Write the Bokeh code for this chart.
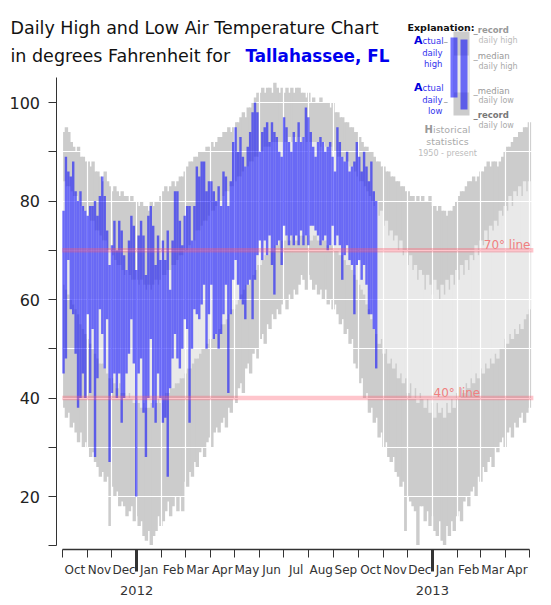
import pandas as pd
from bokeh.plotting import figure
from bokeh.models import FixedTicker, Range1d, Label, LabelSet, ColumnDataSource
from bokeh.embed import file_html
from bokeh.resources import INLINE
from bokeh.core.properties import value

# ---------------- data (deg F), one value per 3-day block from 2011-10-01 ----------------
START = pd.Timestamp("2011-10-01")
AXIS_END = pd.Timestamp("2013-05-01")
STEP = 3

record_high = [
    94, 95, 94, 92, 91, 90, 91, 89, 89, 88, 88, 87, 88, 86, 86, 85, 84, 86, 84, 83,
    82, 83, 82, 81, 82, 81, 81, 80, 81, 80, 80, 79, 80, 79, 79, 78, 80, 79, 80, 80,
    81, 82, 83, 82, 83, 84, 83, 84,
    85, 85, 86, 87, 88, 88, 89, 89, 90, 90, 90, 91, 91, 92, 91, 92, 93, 93, 94, 94,
    95, 94, 95, 96, 96, 97, 98, 97, 99, 99, 100, 101, 102, 102, 103, 102, 103, 103, 102, 104,
    103, 102, 103, 102, 103, 102, 103, 102, 103,
    103, 102, 102, 101, 102, 100, 101, 100, 100, 101, 100, 100, 100, 99, 100, 98, 98, 97, 97, 96,
    96, 95, 95, 94, 94, 93, 92, 91, 91, 90, 90, 89, 88, 88, 87, 87, 86, 86, 85, 85,
    84, 84, 83, 83, 82, 82, 81, 81, 80, 81, 80,
    81, 80, 80, 81, 79, 79, 78, 79, 78, 78, 77, 78, 78, 79, 80, 81, 82, 82, 83, 84,
    84, 85, 84, 85, 86, 86, 87, 88, 87, 88, 88, 87, 88, 89, 90, 91, 91, 92, 93, 93,
    94, 94, 95, 95, 96,
]
median_high = [
    84, 83, 83, 82, 81, 81, 80, 79, 78, 78, 77, 76, 76, 74, 74, 73, 72, 72, 70, 70,
    69, 68, 67, 67, 66, 65, 66, 65, 64, 64, 64, 63, 64, 63, 62, 63, 62, 63, 64, 63,
    64, 65, 65, 66, 66, 67, 67, 68,
    69, 69, 70, 70, 71, 72, 72, 74, 74, 75, 76, 76, 77, 78, 78, 79, 80, 80, 81, 82,
    82, 83, 83, 84, 85, 85, 86, 87, 87, 88, 88, 89, 89, 90, 90, 91, 91, 91, 92, 92,
    92, 92, 92, 92, 92, 93, 92, 93, 92,
    93, 92, 93, 92, 92, 92, 92, 92, 92, 91, 92, 91, 91, 91, 90, 90, 89, 89, 89, 88,
    88, 87, 87, 86, 85, 84, 84, 83, 82, 81,
    80, 79, 80, 77, 78, 75, 76, 73, 74, 72, 73, 70, 72, 69, 70, 67, 69, 66, 67, 64, 66,
    65, 62, 65, 63, 61, 64, 62, 60, 63, 61, 64, 62, 65, 63, 66, 64, 67, 65, 68, 66,
    69, 68, 71, 69, 72, 71, 74, 72, 75, 74, 76, 75, 78, 77, 79, 78, 81, 79, 82, 81,
    83, 81, 84, 82, 84,
]
median_low = [
    63, 62, 61, 60, 59, 58, 57, 55, 54, 53, 52, 51, 50, 49, 48, 47, 47, 46, 45, 44,
    44, 43, 42, 43, 41, 41, 40, 41, 40, 39, 40, 39, 38, 39, 38, 38, 39, 38, 39, 40,
    39, 40, 41, 41, 42, 42, 43, 43,
    44, 44, 45, 46, 46, 47, 48, 48, 49, 50, 50, 51, 52, 52, 53, 53, 54, 55, 55, 56,
    57, 58, 58, 59, 60, 61, 62, 63, 63, 64, 65, 66, 67, 67, 68, 69, 69, 70, 70, 71,
    71, 72, 72, 72, 73, 72, 73, 73, 72,
    73, 73, 73, 73, 73, 72, 73, 73, 72, 72, 72, 72, 71, 71, 71, 70, 70, 69, 69, 68,
    67, 67, 66, 65, 64, 63, 62, 61, 59, 58,
    56, 54, 53, 51, 52, 49, 50, 47, 48, 46, 47, 44, 45, 43, 44, 41, 43, 40, 42, 39, 41,
    40, 38, 40, 37, 39, 36, 39, 37, 38, 36, 39, 37, 40, 38, 41, 40, 42, 41, 43, 42,
    44, 43, 45, 44, 46, 45, 47, 46, 48, 47, 49, 48, 50, 50, 52, 51, 53, 52, 54, 53,
    55, 54, 56, 57, 58,
]
record_low = [
    38, 36, 37, 34, 35, 33, 31, 33, 30, 31, 30, 28, 29, 27, 26, 24, 25, 23, 24, 14,
    22, 20, 21, 18, 19, 18, 16, 17, 18, 15, 16, 14, 15, 12, 11, 13, 10, 12, 13, 16,
    14, 15, 17, 19, 16, 18, 20, 17,
    20, 17, 23, 22, 25, 24, 27, 26, 29, 30, 28, 31, 32, 30, 33, 34, 33, 35, 36, 34,
    38, 37, 40, 39, 42, 43, 41, 46, 47, 45, 49, 50, 48, 52, 53, 51, 55, 54, 57, 56,
    58, 57, 59, 60, 58, 61, 60, 62, 61,
    63, 65, 64, 62, 65, 64, 62, 63, 61, 62, 60, 62, 59, 60, 58, 59, 57, 55, 56, 53,
    54, 51, 52, 47, 46, 43, 44, 40, 41, 37, 38, 35, 36, 32, 33, 30, 31, 28, 27, 28,
    25, 24, 22, 23, 13, 20, 19, 18, 17, 10, 18,
    18, 15, 17, 14, 16, 13, 12, 15, 11, 10, 14, 12, 15, 13, 16, 17, 15, 19, 20, 18,
    21, 22, 20, 24, 23, 26, 25, 27, 28, 26, 30, 29, 31, 32, 30, 33, 34, 32, 35, 34,
    36, 37, 35, 37, 38,
]
actual_high = [
    78, 89, 86, 85, 88, 82, 80, 82, 79, 78, 77, 79, 79, 80, 77, 81, 85, 81, 74, 67,
    71, 76, 70, 76, 74, 69, 66, 72, 77, 75, 66, 73, 76, 73, 65, 77, 79, 75, 67, 73,
    68, 72, 68, 74, 62, 72, 82, 82, 76, 71, 77, 79, 79, 72, 79, 87, 85, 88, 88, 82,
    84, 84, 82, 80, 83, 79, 86, 85, 79, 84, 92, 95, 90, 93, 89, 87, 91, 94, 98, 100,
    98, 90, 94, 95, 96, 92, 96, 94, 93, 90, 89, 97, 95, 92, 90, 94, 92, 96, 92, 93,
    99, 97, 94, 91, 89, 92, 93, 92, 90, 91, 92, 89, 86, 95, 92, 89, 88, 90, 86, 87,
    88, 92, 89, 86, 90, 87, 84, 88, 82, 80,
]
actual_low = [
    45, 48, 68, 58, 57, 49, 38, 40, 45, 40, 57, 41, 54, 28, 44, 58, 53, 46, 56, 27,
    41, 45, 40, 45, 35, 40, 45, 49, 56, 47, 20, 45, 48, 37, 28, 40, 52, 38, 35, 45,
    40, 35, 36, 24, 42, 48, 53, 48, 46, 50, 56, 54, 35, 50, 58, 57, 56, 59, 63, 50,
    57, 63, 52, 53, 50, 53, 57, 63, 41, 57, 64, 68, 63, 60, 59, 56, 63, 64, 56, 64,
    69, 72, 68, 72, 69, 73, 67, 61, 71, 72, 67, 75, 73, 71, 73, 71, 73, 71, 74, 71,
    73, 71, 75, 75, 74, 73, 71, 72, 73, 70, 71, 75, 71, 73, 71, 64, 69, 71, 68, 67,
    57, 67, 68, 64, 67, 63, 57, 57, 54, 46,
]
reference_lines = [70, 40]
reference_labels = ["70° line", "40° line"]
month_labels = ["Oct", "Nov", "Dec", "Jan", "Feb", "Mar", "Apr", "May", "Jun", "Jul",
                "Aug", "Sep", "Oct", "Nov", "Dec", "Jan", "Feb", "Mar", "Apr"]
year_labels = ["2012", "2013"]
year_dates = ["2012-01-01", "2013-01-01"]
y_ticks = [10, 20, 30, 40, 50, 60, 70, 80, 90, 100]
y_labeled = [20, 40, 60, 80, 100]

# ---------------- derived positions (days since START) ----------------
def day(ts):
    return int((pd.Timestamp(ts) - START).days)

hist_left = [day(d) for d in pd.date_range(START, periods=len(record_high), freq=f"{STEP}D")]
hist_right = [x + STEP + 1.2 for x in hist_left]   # slight overlap hides seams
act_left = [day(d) for d in pd.date_range(START, periods=len(actual_high), freq=f"{STEP}D")]
act_right = [x + STEP for x in act_left]
month_starts = [day(d) for d in pd.date_range(START, AXIS_END, freq="MS")]
month_mid = [(a + b) / 2 for a, b in zip(month_starts[:-1], month_starts[1:])]
year_starts = [day(d) for d in year_dates]
end_day = day(AXIS_END)

# ---------------- layout: canvas pixels -> data (frame fills the canvas) ----------------
W, H = 535, 597
PX0, PPD = 61.8, 0.808      # canvas x of day 0, px per day
PY100, PPDEG = 102.0, 4.925  # canvas y of 100F, px per degree

def px(xp):
    return (xp - PX0) / PPD

def py(yp):
    return 100 - (yp - PY100) / PPDEG

FONT = "DejaVu Sans"

p = figure(width=W, height=H, x_range=Range1d(px(0), px(W)), y_range=Range1d(py(H), py(0)),
           output_backend="svg", toolbar_location=None,
           min_border=0, min_border_left=0, min_border_right=0,
           min_border_top=0, min_border_bottom=0)
p.outline_line_color = None
p.background_fill_color = "white"
p.border_fill_color = "white"

# historical bars
hist = ColumnDataSource(dict(left=hist_left, right=hist_right, rh=record_high, rl=record_low,
                             mh=median_high, ml=median_low))
p.quad(left="left", right="right", bottom="rl", top="rh", source=hist,
       fill_color="#cccccc", line_color=None, level="image")
p.quad(left="left", right="right", bottom="ml", top="mh", source=hist,
       fill_color="#e9e9e9", line_color=None, level="image")

# grid (white, over the historical bars)
p.xgrid.ticker = FixedTicker(ticks=month_starts)
p.ygrid.ticker = FixedTicker(ticks=y_ticks)
for g in (p.xgrid[0], p.ygrid[0]):
    g.grid_line_color = "white"
    g.grid_line_width = 1.2
    g.level = "underlay"

# actual bars
act = ColumnDataSource(dict(left=act_left, right=act_right, hi=actual_high, lo=actual_low))
p.quad(left="left", right="right", bottom="lo", top="hi", source=act,
       fill_color="#0000ff", fill_alpha=0.55, line_color=None)

# reference lines
p.segment(x0=[0] * len(reference_lines), x1=[end_day + 5] * len(reference_lines),
          y0=reference_lines, y1=reference_lines,
          line_color="#ff5a6e", line_alpha=0.35, line_width=4.5)
p.add_layout(Label(x=px(530), y=reference_lines[0] + 1.0, text=reference_labels[0],
                   text_align="right", text_baseline="alphabetic", text_font=FONT,
                   text_font_size="12px", text_color="#f08080"))
p.add_layout(Label(x=px(433), y=reference_lines[1] + 0.95, text=reference_labels[1],
                   text_align="left", text_baseline="alphabetic", text_font=FONT,
                   text_font_size="12px", text_color="#f08080"))

# axes (drawn at fixed places inside the full-canvas frame)
xa = p.xaxis[0]
xa.fixed_location = py(549)
xa.ticker = FixedTicker(ticks=year_starts, minor_ticks=month_starts)
xa.bounds = (0, end_day)
xa.axis_line_color = "#333333"
xa.axis_line_width = 1.5
xa.major_tick_out = 22
xa.major_tick_in = 0
xa.major_tick_line_width = 3
xa.major_tick_line_color = "#333333"
xa.minor_tick_out = 8
xa.minor_tick_in = 0
xa.minor_tick_line_color = "#333333"
xa.major_label_overrides = {t: s for t, s in zip(year_starts, year_labels)}
xa.major_label_standoff = 14
xa.major_label_text_font = FONT
xa.major_label_text_font_size = "13px"
xa.major_label_text_color = "#333333"

ya = p.yaxis[0]
ya.fixed_location = px(55.5)
ya.ticker = FixedTicker(ticks=y_ticks)
ya.bounds = (10, 105)
ya.axis_line_color = "#333333"
ya.major_tick_out = 8
ya.major_tick_in = 0
ya.major_tick_line_color = "#333333"
ya.minor_tick_out = 0
ya.major_label_standoff = 8
ya.major_label_overrides = {t: ("" if t not in y_labeled else str(t)) for t in y_ticks}
ya.major_label_text_font = FONT
ya.major_label_text_font_size = "16px"
ya.major_label_text_color = "#222222"

months = ColumnDataSource(dict(x=month_mid, y=[py(569)] * len(month_mid), text=month_labels))
p.add_layout(LabelSet(x="x", y="y", text="text", source=months, text_align="center",
                      text_baseline="middle", text_font=value(FONT),
                      text_font_size=value("12px"), text_color="#333333"))

# title
def lab(x, y, text, size, color, style="normal", align="left"):
    p.add_layout(Label(x=px(x), y=py(y), text=text, text_font=FONT, text_font_size=size,
                       text_color=color, text_font_style=style, text_align=align,
                       text_baseline="alphabetic"))

lab(10, 27, "Daily High and Low Air Temperature Chart", "17.5px", "#111111")
lab(10, 55, "in degrees Fahrenheit for", "17.5px", "#111111")
lab(245, 55, "Tallahassee, FL", "16.8px", "#0000ee", "bold")

# explanation box
def box(l, r, t, b, color, alpha=1.0):
    p.quad(left=[px(l)], right=[px(r)], top=[py(t)], bottom=[py(b)], fill_color=color,
           fill_alpha=alpha, line_color=None, level="overlay")

box(453, 469, 31, 115, "#cccccc")
box(453, 469, 55, 92, "#e9e9e9")
box(450, 457, 37, 97, "#0000ff", 0.55)
box(460, 467, 39, 109, "#0000ff", 0.55)

lab(407, 27, "Explanation:", "9.5px", "#111111", "bold")
for base in (40, 87):
    lab(422, base, "A", "11px", "#0000dd", "bold", "right")
    lab(443, base, "ctual", "8.5px", "#3333ee", "normal", "right")
lab(442, 52, "daily", "8.5px", "#3333ee", "normal", "right")
lab(442, 63, "high", "8.5px", "#3333ee", "normal", "right")
lab(442, 99, "daily", "8.5px", "#3333ee", "normal", "right")
lab(442, 110, "low", "8.5px", "#3333ee", "normal", "right")
lab(443, 41, "–", "9px", "#888888")
lab(443, 101, "–", "9px", "#888888")
lab(473, 29, "_record", "8.5px", "#999999", "bold")
lab(478, 40, "daily high", "8px", "#bbbbbb")
lab(473, 55, "_median", "8.5px", "#999999")
lab(478, 66, "daily high", "8px", "#aaaaaa")
lab(473, 90, "_median", "8.5px", "#999999")
lab(478, 100, "daily low", "8px", "#aaaaaa")
lab(473, 114, "_record", "8.5px", "#777777", "bold")
lab(478, 125, "daily low", "8px", "#aaaaaa")
lab(424, 129, "H", "10px", "#999999", "bold")
lab(432.5, 129, "istorical", "9.5px", "#aaaaaa")
lab(447, 141, "statistics", "9.5px", "#aaaaaa", "normal", "center")
lab(447, 153, "1950 - present", "8px", "#bbbbbb", "normal", "center")

open("out.html", "w").write(file_html(p, INLINE))
